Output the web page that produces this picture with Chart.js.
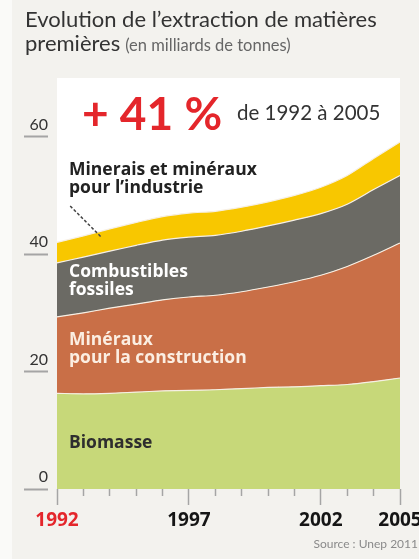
<!DOCTYPE html>
<html>
<head>
<meta charset="utf-8">
<script src="https://cdn.jsdelivr.net/npm/chart.js@4/dist/chart.umd.min.js"></script>
<style>
  html, body { margin: 0; padding: 0; background: #f3f2ee; }
  canvas { display: block; }
</style>
</head>
<body>
<canvas id="extraction" width="419" height="559"></canvas>
<script>
// années et valeurs (milliards de tonnes)
const annees = ["1992", "1993", "1994", "1995", "1996", "1997", "1998",
  "1999", "2000", "2001", "2002", "2003", "2004", "2005"];
const anneesAffichees = ["1992", "1997", "2002", "2005"];
const graduationsY = [0, 20, 40, 60];

const biomasse = [16.3, 16.2, 16.3, 16.5, 16.7, 16.8, 16.9, 17.1, 17.3, 17.4, 17.6, 17.8, 18.3, 18.9];
const construction = [13.0, 13.8, 14.5, 15.0, 15.5, 15.9, 16.1, 16.5, 17.1, 17.9, 18.8, 20.1, 21.5, 23.0];
const combustibles = [9.2, 9.5, 9.7, 10.0, 10.2, 10.2, 10.2, 10.3, 10.4, 10.5, 10.5, 10.6, 11.2, 11.5];
const industrie = [3.5, 3.6, 3.8, 3.9, 4.0, 4.1, 4.1, 4.1, 4.1, 4.2, 4.5, 4.9, 5.3, 5.7];

const rouge = "#e4262b";

// fond blanc, titre et textes dans les aires
const decor = {
  id: "decor",
  beforeDraw(chart) {
    const { ctx, chartArea: a } = chart;
    ctx.save();
    ctx.fillStyle = "#fafaf8";
    ctx.fillRect(0, 0, 12, chart.height);
    ctx.fillStyle = "#ffffff";
    ctx.fillRect(a.left, a.top, a.right - a.left, a.bottom - a.top);
    ctx.restore();
  },
  afterDraw(chart) {
    const ctx = chart.ctx;
    const x = chart.scales.x;
    const y = chart.scales.y;
    ctx.save();

    // titre
    ctx.textBaseline = "alphabetic";
    ctx.textAlign = "left";
    ctx.fillStyle = "#333333";
    ctx.font = "22px Lato";
    ctx.fillText("Evolution de l’extraction de matières", 25, 27);
    ctx.fillText("premières", 25, 51);
    const w = ctx.measureText("premières").width;
    ctx.font = "16.5px Lato";
    ctx.fillStyle = "#666666";
    ctx.fillText("(en milliards de tonnes)", 25 + w + 5, 51);

    // + 41 %
    ctx.font = "bold 46px Lato";
    ctx.fillStyle = rouge;
    ctx.fillText("+ 41 %", 82, 130);
    ctx.font = "20.5px Lato";
    ctx.fillStyle = "#333333";
    ctx.fillText("de 1992 à 2005", 237, 120);

    // étiquettes des aires
    ctx.textBaseline = "middle";
    ctx.font = "bold 17.5px 'Open Sans'";
    ctx.fillStyle = "#222222";
    ctx.fillText("Minerais et minéraux", 69, 170);
    ctx.fillText("pour l’industrie", 69, 188);
    ctx.fillStyle = "#ffffff";
    ctx.fillText("Combustibles", 69, 272);
    ctx.fillText("fossiles", 69, 290);
    ctx.fillStyle = "#fbeee2";
    ctx.fillText("Minéraux", 69, 340);
    ctx.fillText("pour la construction", 69, 358);
    ctx.fillStyle = "#2e2e2e";
    ctx.fillText("Biomasse", 69, 443);

    // trait pointillé vers la bande jaune
    const x0 = x.getPixelForValue(0);
    const pas = x.getPixelForValue(1) - x0;
    ctx.strokeStyle = "#444444";
    ctx.lineWidth = 1.5;
    ctx.setLineDash([3, 2]);
    ctx.beginPath();
    ctx.moveTo(x0 + pas * 0.5, y.getPixelForValue(48.2));
    ctx.lineTo(x0 + pas * 1.7, y.getPixelForValue(42.8));
    ctx.stroke();
    ctx.setLineDash([]);

    // source
    ctx.font = "12px Lato";
    ctx.fillStyle = "#8a8a8a";
    ctx.textAlign = "right";
    ctx.fillText("Source : Unep 2011", 418, 544);
    ctx.restore();
  }
};

const couche = (label, data, couleur, fill) => ({
  label: label,
  data: data,
  backgroundColor: couleur,
  borderColor: "#f6efe4",
  borderWidth: 1.2,
  pointRadius: 0,
  tension: 0.25,
  fill: fill
});

new Chart(document.getElementById("extraction"), {
  type: "line",
  data: {
    labels: annees,
    datasets: [
      couche("Biomasse", biomasse, "#c7d879", "origin"),
      couche("Minéraux pour la construction", construction, "#c96f47", "-1"),
      couche("Combustibles fossiles", combustibles, "#6b6a64", "-1"),
      couche("Minerais et minéraux pour l'industrie", industrie, "#f8c700", "-1"),
    ],
  },
  options: {
    responsive: false,
    animation: false,
    layout: { padding: { top: 78, right: 19, left: 0, bottom: 0 } },
    plugins: {
      legend: { display: false },
      tooltip: { enabled: false },
    },
    scales: {
      x: {
        type: "category",
        offset: false,
        border: { display: false },
        grid: {
          drawOnChartArea: false,
          tickLength: 16,
          tickColor: "#a5a5a5",
          tickWidth: 1.5,
          tickBorderDash: (c) => anneesAffichees.includes(annees[c.index]) ? [] : [7, 40],
        },
        ticks: {
          autoSkip: false,
          maxRotation: 0,
          padding: 4,
          font: { family: "Open Sans", size: 19, weight: "bold" },
          color: (c) => c.index === 0 ? rouge : "#151515",
          callback: (v, i) => anneesAffichees.includes(annees[i]) ? annees[i] : "",
        },
        afterFit: (s) => { s.height = 70; s.paddingLeft = 0; s.paddingRight = 0; },
      },
      y: {
        stacked: true,
        min: 0,
        max: 70,
        border: { display: false },
        afterBuildTicks: (s) => { s.ticks = graduationsY.map((v) => ({ value: v })); },
        grid: {
          drawOnChartArea: false,
          tickLength: 33,
          tickColor: "#a5a5a5",
          tickWidth: 2,
          tickBorderDash: [24, 40],
        },
        ticks: {
          padding: -24,
          labelOffset: -12,
          font: { family: "Lato", size: 16 },
          color: "#333333",
        },
        afterFit: (s) => { s.width = 57; },
      },
    },
  },
  plugins: [decor],
});
</script>
</body>
</html>
